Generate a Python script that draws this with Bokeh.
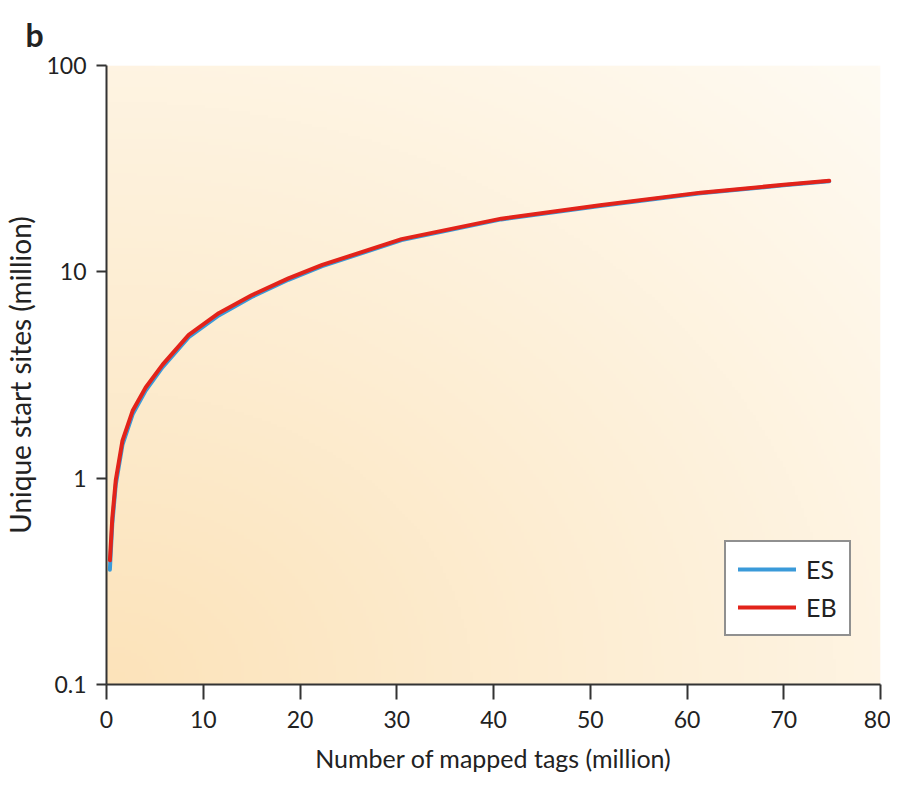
import numpy as np
from bokeh.plotting import figure
from bokeh.models import FixedTicker, CustomJSTickFormatter, Legend, LegendItem
from bokeh.embed import file_html
from bokeh.resources import INLINE

# ---- data ----
tags_million = [0.35, 0.6, 0.96, 1.65, 2.7, 4.05, 5.8, 8.5, 11.6, 15.0, 18.8, 22.3,
                30.5, 40.8, 51.0, 61.4, 70.0, 74.7]
eb_sites = [0.40, 0.64, 0.98, 1.52, 2.12, 2.75, 3.55, 4.95, 6.3, 7.7, 9.3, 10.8,
            14.4, 18.1, 21.0, 24.2, 26.4, 27.6]
es_sites = [0.36, 0.60, 0.93, 1.45, 2.04, 2.66, 3.45, 4.82, 6.15, 7.55, 9.15, 10.65,
            14.25, 17.95, 20.85, 24.05, 26.25, 27.45]
x_ticks = [0, 10, 20, 30, 40, 50, 60, 70, 80]
y_ticks = [0.1, 1, 10, 100]
x_lim = (0, 80)
y_lim = (0.1, 100)

FONT = "Lato"

p = figure(width=890, height=775, x_range=x_lim, y_range=y_lim, y_axis_type="log",
           output_backend="svg", toolbar_location=None,
           min_border_left=101, min_border_right=10, min_border_top=65, min_border_bottom=88)
p.outline_line_color = None
p.background_fill_color = "white"
p.border_fill_color = "white"
p.xgrid.visible = False
p.ygrid.visible = False

p.title.text = "b"
p.title.align = "left"
p.title.offset = -81
p.title.text_font = FONT
p.title.text_font_style = "bold"
p.title.text_font_size = "32px"
p.title.text_color = "#222222"
p.title.standoff = 24

# ---- radial background gradient (orange at bottom-left fading to white) ----
H, W = 200, 260
u = np.linspace(0, 1, W)[None, :]
v = np.linspace(0, 1, H)[:, None]
t = np.clip(np.sqrt(u ** 2 + v ** 2) / np.sqrt(2), 0, 1)
c0 = np.array([252, 227, 186])
c1 = np.array([255, 251, 243])
img = np.empty((H, W), dtype=np.uint32)
view = img.view(dtype=np.uint8).reshape((H, W, 4))
for k in range(3):
    view[:, :, k] = (c0[k] + (c1[k] - c0[k]) * t).astype(np.uint8)
view[:, :, 3] = 255
p.image_rgba(image=[img], x=x_lim[0], y=y_lim[0], dw=x_lim[1] - x_lim[0], dh=y_lim[1] - y_lim[0])

# ---- curves ----
r_es = p.line(tags_million, es_sites, line_color="#3a9ad9", line_width=4, line_join="round", line_cap="round")
r_eb = p.line(tags_million, eb_sites, line_color="#e2231a", line_width=4, line_join="round", line_cap="round")

legend = Legend(items=[LegendItem(label="ES", renderers=[r_es]), LegendItem(label="EB", renderers=[r_eb])],
                location=(618, 48), border_line_color="#222222", border_line_width=2,
                background_fill_color="white", background_fill_alpha=1.0,
                padding=12, spacing=8, glyph_width=58, glyph_height=30, label_height=30,
                label_standoff=10, margin=0,
                label_text_font=FONT, label_text_font_size="25px", label_text_color="#222222")
p.add_layout(legend, "center")

# ---- axes ----
for ax in (p.xaxis[0], p.yaxis[0]):
    ax.axis_line_color = "#333333"
    ax.axis_line_width = 2
    ax.major_tick_line_color = "#333333"
    ax.major_tick_line_width = 2
    ax.major_tick_in = 0
    ax.minor_tick_line_color = None
    ax.major_label_text_font = FONT
    ax.major_label_text_font_size = "23px"
    ax.major_label_text_color = "#222222"
    ax.axis_label_text_font = FONT
    ax.axis_label_text_font_style = "normal"
    ax.axis_label_text_color = "#222222"

p.xaxis.ticker = FixedTicker(ticks=x_ticks)
p.xaxis.major_tick_out = 15
p.xaxis.major_label_standoff = 11
p.xaxis.axis_label = "Number of mapped tags (million)"
p.xaxis.axis_label_standoff = 12
p.xaxis.axis_label_text_font_size = "25px"

p.yaxis.ticker = FixedTicker(ticks=y_ticks)
p.yaxis.formatter = CustomJSTickFormatter(code="return tick >= 1 ? tick.toFixed(0) : tick.toFixed(1);")
p.yaxis.major_tick_out = 10
p.yaxis.major_label_standoff = 10
p.yaxis.axis_label = "Unique start sites (million)"
p.yaxis.axis_label_text_font_size = "28px"
p.yaxis.axis_label_standoff = 6

open("out.html", "w").write(file_html(p, INLINE))
